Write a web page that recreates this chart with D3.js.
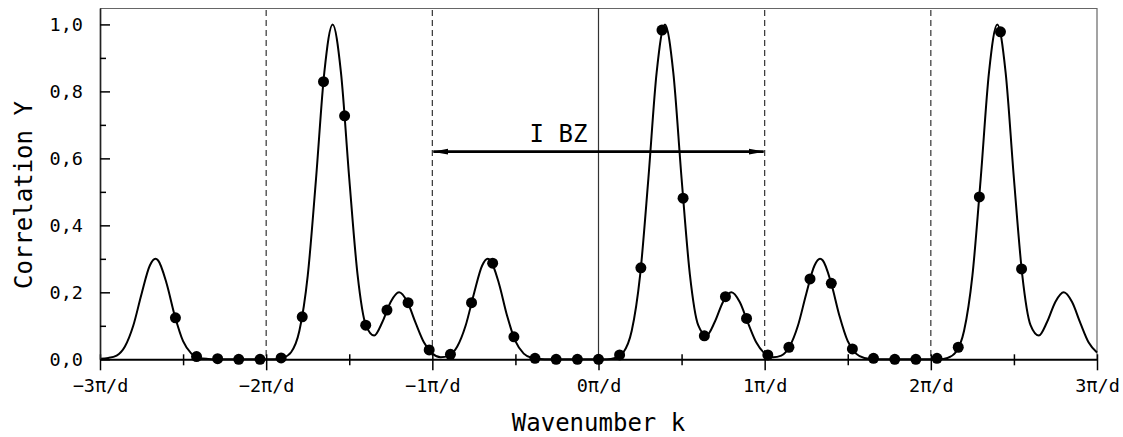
<!DOCTYPE html>
<html>
<head>
<meta charset="utf-8">
<script src="https://cdn.jsdelivr.net/npm/d3@7"></script>
<style>
  body { margin: 0; background: #fff; }
  text { font-family: "DejaVu Sans Mono", monospace; fill: #000; }
</style>
</head>
<body>
<div class="chart"></div>
<script>
// curve, k in units of pi/d
var curveK = [-3.00, -2.95, -2.90, -2.85, -2.80, -2.75, -2.70, -2.667, -2.65, -2.60, -2.55, -2.50, -2.45, -2.40, -2.35, -2.30,
    -2.25, -2.20, -2.15, -2.10, -2.05, -2.00, -1.95, -1.90, -1.85, -1.80, -1.75, -1.70, -1.65, -1.60, -1.55, -1.50,
    -1.45, -1.40, -1.35, -1.30, -1.25, -1.20, -1.15, -1.10, -1.05, -1.00, -0.95, -0.90, -0.85, -0.80, -0.75, -0.70,
    -0.667, -0.65, -0.60, -0.55, -0.50, -0.45, -0.40, -0.35, -0.30, -0.25, -0.20, -0.15, -0.10, -0.05, 0.00, 0.05,
    0.10, 0.15, 0.20, 0.25, 0.30, 0.35, 0.40, 0.45, 0.50, 0.55, 0.60, 0.65, 0.70, 0.75, 0.80, 0.85,
    0.90, 0.95, 1.00, 1.05, 1.10, 1.15, 1.20, 1.25, 1.30, 1.333, 1.35, 1.40, 1.45, 1.50, 1.55, 1.60,
    1.65, 1.70, 1.75, 1.80, 1.85, 1.90, 1.95, 2.00, 2.05, 2.10, 2.15, 2.20, 2.25, 2.30, 2.35, 2.40,
    2.45, 2.50, 2.55, 2.60, 2.65, 2.70, 2.75, 2.80, 2.85, 2.90, 2.95, 3.00];
var curveY = [0.002, 0.004, 0.011, 0.038, 0.100, 0.195, 0.280, 0.300, 0.295, 0.228, 0.130, 0.054, 0.017, 0.004, 0.001, 0,
    0, 0, 0, 0, 0, 0, 0, 0.004, 0.021, 0.085, 0.249, 0.539, 0.857, 1.000, 0.857, 0.540,
    0.253, 0.102, 0.071, 0.112, 0.172, 0.200, 0.171, 0.108, 0.050, 0.017, 0.006, 0.011, 0.038, 0.100, 0.195, 0.280,
    0.300, 0.295, 0.228, 0.130, 0.054, 0.017, 0.004, 0.001, 0, 0, 0, 0, 0, 0, 0, 0,
    0.004, 0.021, 0.085, 0.249, 0.539, 0.857, 1.000, 0.857, 0.540, 0.253, 0.102, 0.071, 0.112, 0.172, 0.200, 0.171,
    0.108, 0.050, 0.017, 0.006, 0.011, 0.038, 0.100, 0.195, 0.280, 0.300, 0.295, 0.228, 0.130, 0.054, 0.017, 0.004,
    0.001, 0, 0, 0, 0, 0, 0, 0, 0, 0.004, 0.021, 0.085, 0.249, 0.539, 0.857, 1.000,
    0.857, 0.540, 0.253, 0.102, 0.071, 0.112, 0.172, 0.200, 0.171, 0.108, 0.050, 0.020];

// sampled points
var dotK = [-2.546, -2.419, -2.292, -2.165, -2.037, -1.910, -1.783, -1.655, -1.528, -1.401, -1.273, -1.146, -1.019, -0.891,
    -0.764, -0.637, -0.509, -0.382, -0.255, -0.127, 0, 0.127, 0.255, 0.382, 0.509, 0.637, 0.764, 0.891,
    1.019, 1.146, 1.273, 1.401, 1.528, 1.655, 1.783, 1.910, 2.037, 2.165, 2.292, 2.419, 2.546];
var dotY = [0.124, 0.008, 0.002, 0, 0, 0.004, 0.127, 0.829, 0.727, 0.102, 0.147, 0.169, 0.028, 0.015,
    0.169, 0.287, 0.067, 0.003, 0, 0, 0, 0.013, 0.273, 0.983, 0.481, 0.070, 0.187, 0.122,
    0.013, 0.036, 0.240, 0.227, 0.031, 0.003, 0, 0, 0.003, 0.036, 0.485, 0.978, 0.270];

var xTicks = [-3, -2, -1, 0, 1, 2, 3];
var xTickLabels = ["\u22123\u03c0/d", "\u22122\u03c0/d", "\u22121\u03c0/d", "0\u03c0/d", "1\u03c0/d", "2\u03c0/d", "3\u03c0/d"];
var xMinor = [-2.5, -1.5, -0.5, 0.5, 1.5, 2.5];
var yTicks = [0, 0.2, 0.4, 0.6, 0.8, 1.0];
var yTickLabels = ["0,0", "0,2", "0,4", "0,6", "0,8", "1,0"];
var yMinor = [0.1, 0.3, 0.5, 0.7, 0.9];
var zoneLines = [-2, -1, 1, 2];
var zoneLabel = "I BZ";
var zoneArrow = { from: -1, to: 1, y: 0.62 };

var W = 1123, H = 437;
var margin = { top: 8, right: 26, bottom: 77.7, left: 100 };
var width = W - margin.left - margin.right,
    height = H - margin.top - margin.bottom;

var svg = d3.select(".chart")
    .append("svg")
    .attr("width", W)
    .attr("height", H)
    .append("g")
    .attr("transform", "translate(" + margin.left + "," + margin.top + ")");

var x = d3.scaleLinear().domain([-3, 3]).range([0, width]);
var y = d3.scaleLinear().domain([0, 1.049]).range([height, 0]);

// frame top / right
svg.append("line").attr("x1", 0).attr("x2", width).attr("y1", 0.5).attr("y2", 0.5)
    .attr("stroke", "#666").attr("stroke-width", 1.2);
svg.append("line").attr("x1", width).attr("x2", width).attr("y1", 0).attr("y2", height)
    .attr("stroke", "#666").attr("stroke-width", 1.2);

// zone boundaries
svg.selectAll(".zone")
    .data(zoneLines)
    .enter()
    .append("line")
    .attr("x1", function (d) { return x(d); })
    .attr("x2", function (d) { return x(d); })
    .attr("y1", 2)
    .attr("y2", height)
    .attr("stroke", "#333")
    .attr("stroke-width", 1.2)
    .attr("stroke-dasharray", "6,4");

svg.append("line")
    .attr("x1", x(0)).attr("x2", x(0))
    .attr("y1", 0).attr("y2", height)
    .attr("stroke", "#333").attr("stroke-width", 1.2);

// curve
svg.append("path")
    .datum(curveK.map(function (k, i) { return [k, curveY[i]]; }))
    .attr("fill", "none")
    .attr("stroke", "#000")
    .attr("stroke-width", 2)
    .attr("d", d3.line()
        .curve(d3.curveMonotoneX)
        .x(function (d) { return x(d[0]); })
        .y(function (d) { return y(d[1]); }));

// arrow
var defs = svg.append("defs");
defs.append("marker")
    .attr("id", "ah")
    .attr("viewBox", "0 0 16 8")
    .attr("refX", 15).attr("refY", 4)
    .attr("markerWidth", 16).attr("markerHeight", 8)
    .attr("markerUnits", "userSpaceOnUse")
    .attr("orient", "auto-start-reverse")
    .append("path")
    .attr("d", "M0,1 L16,4 L0,7 Z")
    .attr("fill", "#000");

svg.append("line")
    .attr("x1", x(zoneArrow.from) + 1).attr("x2", x(zoneArrow.to) - 1)
    .attr("y1", y(zoneArrow.y)).attr("y2", y(zoneArrow.y))
    .attr("stroke", "#000").attr("stroke-width", 2.6)
    .attr("marker-start", "url(#ah)")
    .attr("marker-end", "url(#ah)");

svg.append("text")
    .attr("x", (x(zoneArrow.from) + x(zoneArrow.to)) / 2 - 40)
    .attr("y", y(zoneArrow.y) - 10)
    .attr("text-anchor", "middle")
    .style("font-size", "24px")
    .text(zoneLabel);

// dots
svg.selectAll(".dot")
    .data(dotK)
    .enter()
    .append("circle")
    .attr("cx", function (d) { return x(d); })
    .attr("cy", function (d, i) { return y(dotY[i]); })
    .attr("r", 5.5)
    .attr("fill", "#000");

// x axis
var gx = svg.append("g")
    .attr("transform", "translate(0," + height + ")")
    .call(d3.axisBottom(x).tickValues(xTicks).tickSizeInner(11).tickSizeOuter(0)
        .tickFormat(function (d, i) { return xTickLabels[i]; }));
gx.select(".domain").attr("stroke", "#000").attr("stroke-width", 2);
gx.selectAll(".tick line").attr("y1", -5).attr("y2", 11).attr("stroke-width", 1.5);
gx.selectAll(".tick text").attr("y", 20).style("font-size", "18.5px")
    .style("font-family", "DejaVu Sans Mono");

var gxm = svg.append("g")
    .attr("transform", "translate(0," + height + ")")
    .call(d3.axisBottom(x).tickValues(xMinor).tickSizeInner(6).tickSizeOuter(0).tickFormat(""));
gxm.select(".domain").remove();
gxm.selectAll(".tick line").attr("y1", -5).attr("stroke-width", 1.5);

// y axis
var gy = svg.append("g")
    .call(d3.axisLeft(y).tickValues(yTicks).tickSizeInner(9).tickSizeOuter(0)
        .tickFormat(function (d, i) { return yTickLabels[i]; }));
gy.select(".domain").attr("stroke", "#222").attr("stroke-width", 1.7);
gy.selectAll(".tick line").attr("x2", 10).attr("stroke-width", 1.5);
gy.selectAll(".tick text").attr("x", -17).attr("dy", "0.32em").style("font-size", "18.5px")
    .style("font-family", "DejaVu Sans Mono");

var gym = svg.append("g")
    .call(d3.axisLeft(y).tickValues(yMinor).tickSizeInner(4).tickSizeOuter(0).tickFormat(""));
gym.select(".domain").remove();
gym.selectAll(".tick line").attr("x2", 6).attr("stroke-width", 1.5);

// axis titles
svg.append("text")
    .attr("x", width / 2)
    .attr("y", 430.5 - margin.top)
    .attr("text-anchor", "middle")
    .style("font-size", "24px")
    .text("Wavenumber k");

svg.append("text")
    .attr("transform", "translate(" + (32 - margin.left) + "," + (195 - margin.top) + ") rotate(-90)")
    .attr("text-anchor", "middle")
    .style("font-size", "24px")
    .text("Correlation Y");
</script>
</body>
</html>
